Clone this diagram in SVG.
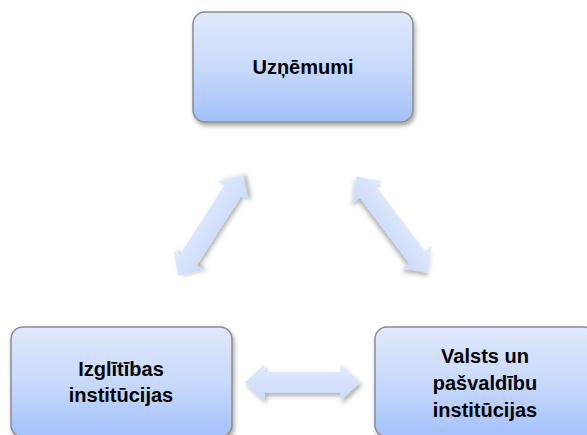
<svg xmlns="http://www.w3.org/2000/svg" width="587" height="435" viewBox="0 0 587 435">
  <defs>
    <linearGradient id="boxFill" x1="0" y1="0" x2="0" y2="1">
      <stop offset="0" stop-color="#e0e9fd"/>
      <stop offset="0.5" stop-color="#c8dafc"/>
      <stop offset="1" stop-color="#a3c1fa"/>
    </linearGradient>
    <linearGradient id="arrowFill" x1="0" y1="0" x2="0" y2="1">
      <stop offset="0" stop-color="#e2ebfc"/>
      <stop offset="1" stop-color="#c9dafa"/>
    </linearGradient>
    <filter id="shadow" x="-20%" y="-20%" width="140%" height="150%">
      <feDropShadow dx="1.5" dy="3" stdDeviation="2" flood-color="#000" flood-opacity="0.35"/>
    </filter>
    <filter id="arrowShadow" x="-30%" y="-30%" width="160%" height="160%">
      <feDropShadow dx="2" dy="3" stdDeviation="2" flood-color="#000" flood-opacity="0.3"/>
    </filter>
  </defs>
  <style>
    .box { fill: url(#boxFill); stroke: #8c8c8c; stroke-width: 1.5; filter: url(#shadow); }
    .label { font-family: "Liberation Sans", Arial, sans-serif; font-weight: bold; font-size: 20px; fill: #000; text-anchor: middle; }
    .arrow { fill: url(#arrowFill); filter: url(#arrowShadow); }
  </style>

  <rect width="587" height="435" fill="#fff"/>

  <!-- connectors: double-headed block arrows -->
  <g id="connectors">
    <path class="arrow" transform="translate(210.5,225.5) rotate(-57.2)" d="M-60,0 L-41,-18 L-41,-10 L41,-10 L41,-18 L60,0 L41,18 L41,10 L-41,10 L-41,18 Z"/>
    <path class="arrow" transform="translate(392.5,224.5) rotate(53)" d="M-60,0 L-41,-18 L-41,-10 L41,-10 L41,-18 L60,0 L41,18 L41,10 L-41,10 L-41,18 Z"/>
    <path class="arrow" transform="translate(302.5,382.5)" d="M-57.5,0 L-38,-18.5 L-38,-10.5 L38,-10.5 L38,-18.5 L57.5,0 L38,18.5 L38,10.5 L-38,10.5 L-38,18.5 Z"/>
  </g>

  <!-- nodes -->
  <g id="node-uznemumi">
    <rect class="box" x="193" y="12" width="220" height="110" rx="12"/>
    <text class="label" x="303" y="74">Uzņēmumi</text>
  </g>

  <g id="node-izglitibas">
    <rect class="box" x="11" y="327" width="221" height="110" rx="12"/>
    <text class="label" x="121" y="376">Izglītības</text>
    <text class="label" x="121" y="402">institūcijas</text>
  </g>

  <g id="node-valsts">
    <rect class="box" x="375" y="327" width="221" height="110" rx="12"/>
    <text class="label" x="485" y="363">Valsts un</text>
    <text class="label" x="485" y="390">pašvaldību</text>
    <text class="label" x="485" y="417">institūcijas</text>
  </g>
</svg>
